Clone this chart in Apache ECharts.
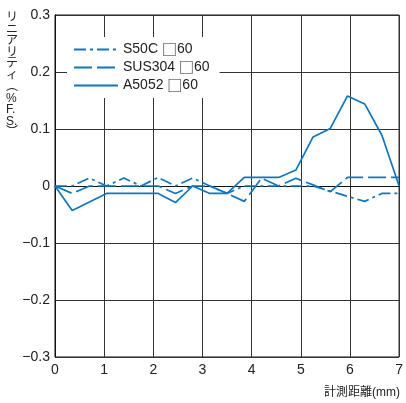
<!DOCTYPE html>
<html><head><meta charset="utf-8">
<script src="https://cdn.jsdelivr.net/npm/echarts@6/dist/echarts.min.js"></script>
<style>html,body{margin:0;padding:0;background:#fff}#c{width:406px;height:403px}</style>
</head><body><div id="c"></div>
<script>
const positions = [0,0.35,0.7,1.05,1.4,1.75,2.1,2.45,2.8,3.15,3.5,3.85,4.2,4.55,4.9,5.25,5.6,5.95,6.3,6.65,7.0];
const s50c   = [0,0,0.014,0,0.014,0,0.015,0,0.014,0,-0.013,0,0,0,0,0,-0.009,-0.018,-0.027,-0.013,-0.013];
const sus304 = [0,-0.013,0,0,0,0,0,-0.013,0,0,-0.013,-0.027,0.0135,0,0.0135,0.002,-0.01,0.015,0.015,0.015,0.015];
const a5052  = [0,-0.043,-0.028,-0.013,-0.013,-0.013,-0.013,-0.029,0,-0.013,-0.013,0.015,0.015,0.015,0.028,0.086,0.101,0.158,0.144,0.089,0];
const seriesNames = ['S50C □60','SUS304 □60','A5052 □60'];
const xTicks = [0,1,2,3,4,5,6,7];
const yTicks = [-0.3,-0.2,-0.1,0,0.1,0.2,0.3];
const yName = ['リ','ニ','ア','リ','テ','ィ','︵','%','F.','S.','︶'];
const xName = '計測距離(mm)';

const blue = '#0a78c6';
const font = "'Liberation Sans', Arial, 'Noto Sans CJK JP', sans-serif";
const pair = arr => arr.map((v,i)=>[positions[i], v]);
const chart = echarts.init(document.getElementById('c'), null, {renderer:'canvas'});
const mk = (name, data, type) => ({
  name, type:'line', data: pair(data), symbol:'none', showSymbol:false,
  lineStyle:{color:blue, width:1.7, type:type}, itemStyle:{color:blue},
  emphasis:{disabled:true}, animation:false
});
chart.setOption({
  animation:false,
  textStyle:{fontFamily:font},
  grid:{left:55, right:6, top:15, bottom:46, show:true, borderColor:'#111', borderWidth:1},
  legend:{
    data:seriesNames, left:67, top:37, orient:'vertical', itemWidth:44, itemHeight:12, itemGap:3,
    backgroundColor:'#fff', padding:[5,10,5,6],
    itemStyle:{opacity:0},
    formatter: n => { const p = n.split('□'); return '{t|'+p[0]+'}{sq|□}{t|'+p[1]+'}'; },
    textStyle:{fontSize:14, color:'#222', fontFamily:font,
      rich:{t:{fontSize:14, color:'#222', fontFamily:font},
            sq:{fontSize:15, color:'#222', fontFamily:"'Noto Sans CJK JP'"}}}
  },
  xAxis:{type:'value', min:0, max:7, interval:1,
    axisLine:{lineStyle:{color:'#111'}}, axisTick:{show:false},
    splitLine:{show:true, lineStyle:{color:'#333', width:1}},
    axisLabel:{fontSize:14, color:'#222', margin:6, formatter:v=>xTicks.includes(v)?String(v):''}
  },
  yAxis:{type:'value', min:-0.3, max:0.3, interval:0.1,
    axisLine:{show:true, lineStyle:{color:'#111'}}, axisTick:{show:false},
    splitLine:{show:true, lineStyle:{color:'#333', width:1}},
    axisLabel:{fontSize:14, color:'#222', margin:5, formatter:v=>{
      const r = Math.round(v*10)/10; if(r===0) return '0';
      return (r<0?'−':'')+Math.abs(r).toFixed(1);}}
  },
  graphic:[
    {type:'text', left:6, top:12, style:{text:yName.join('\n'), fontSize:12, lineHeight:11.5, fill:'#222', fontFamily:font, align:'center'}},
    {type:'text', right:6, top:387, style:{text:xName, fontSize:12, fill:'#222', fontFamily:font}}
  ],
  series:[
    mk(seriesNames[0], s50c, [12,4,3,4]),
    mk(seriesNames[1], sus304, [18,5]),
    mk(seriesNames[2], a5052, 'solid')
  ]
});
</script></body></html>
